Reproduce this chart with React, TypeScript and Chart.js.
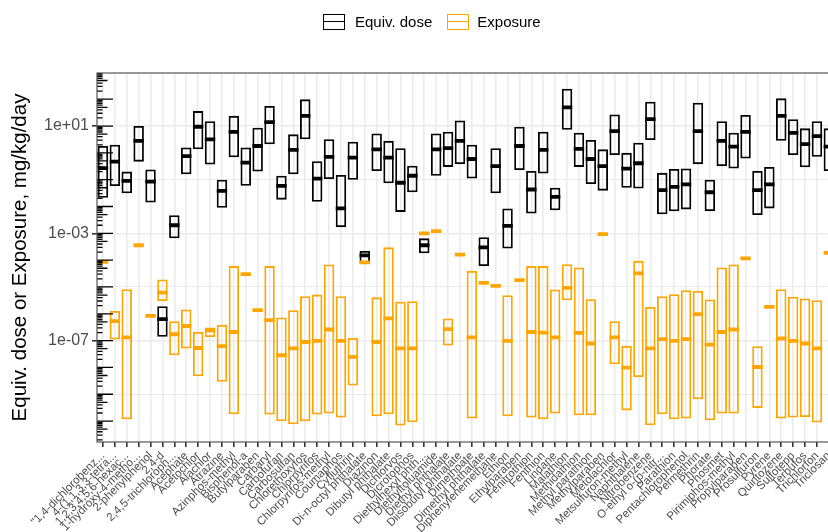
import React, { useEffect, useRef } from 'react';
import { Chart, registerables } from 'chart.js';

Chart.register(...registerables);

const categories = [
  '"1,4-dichlorobenz...', '4-(1,1,3,3-tetra...', '1,2,3,4,5,6-hexac...', '1-hydroxy-4-metho...',
  '2-phenylphenol', '2,4-d', '2,4,5-trichloroph...', 'Acephate', 'Acetochlor', 'Alachlor',
  'Atrazine', 'Azinphos-methyl', 'Bisphenol-a', 'Butylparaben', 'Carbaryl', 'Carbofuran',
  'Carbosulfan', 'Chlorethoxyfos', 'Chlorpyrifos', 'Chlorpyrifos-methyl', 'Coumaphos',
  'Cyfluthrin', 'Di-n-octyl phthalate', 'Diazinon', 'Dibutyl phthalate', 'Dichlorvos',
  'Dicrotophos', 'Diethylhexyl phth...', 'Diethyltoluamide', 'Diethyl phthalate',
  'Diisobutyl phthalate', 'Dimethoate', 'Dimethyl phthalate', 'Diphenylenemethane', 'Ethion',
  'Ethylparaben', 'Fenitrothion', 'Fenthion', 'Lindane', 'Malathion', 'Methidathion',
  'Methyl parathion', 'Methylparaben', 'Metolachlor', 'Metsulfuron-methyl', 'Naphthalene',
  'Nitrobenzene', 'O-ethyl o-(p-nitr...', 'Parathion', 'Pentachlorophenol', 'Permethrin',
  'Phorate', 'Phosmet', 'Pirimiphos-methyl', 'Propylparaben', 'Prosulfuron', 'Pyrene',
  'Quintozene', 'Sulfotepp', 'Terbufos', 'Trichlorfon', 'Triclosan',
];

// Equiv. dose (mg/kg/day)
const doseMin = [
  2.1e-2, 5.8e-2, 3.1e-2, 4.7e-1, 1.4e-2, 1.4e-7, 6.5e-4, 1.6e-1, 1.35, 3.7e-1,
  8.9e-3, 6.8e-1, 5.9e-2, 2.0e-1, 2.1, 1.8e-2, 1.6e-1, 3.2, 1.5e-2, 1.05e-1,
  1.7e-3, 1.0e-1, 7.4e-5, 2.1e-1, 7.3e-2, 6.3e-3, 3.4e-2, 1.8e-4, 1.4e-1, 3.0e-1,
  3.8e-1, 1.1e-1, 6.0e-5, 3.1e-2, 2.7e-4, 2.3e-1, 5.5e-3, 1.7e-1, 7.3e-3, 7.3,
  3.0e-1, 6.9e-2, 3.9e-2, 8.3e-1, 5.0e-2, 4.7e-2, 3.0, 5.1e-3, 6.7e-3, 7.8e-3,
  3.8e-1, 6.7e-3, 3.2e-1, 2.6e-1, 6.2e-1, 4.8e-3, 8.5e-3, 2.8, 8.3e-1, 2.9e-1,
  7.1e-1, 2.1e-1,
];
const doseMed = [
  2.7e-1, 4.7e-1, 9.1e-2, 2.8, 8.4e-2, 6.3e-7, 2.0e-3, 7.6e-1, 9.4, 3.2,
  3.8e-2, 6.1, 4.3e-1, 1.8, 14, 5.9e-2, 1.3, 24, 1.1e-1, 7.1e-1,
  8.5e-3, 6.6e-1, 1.5e-4, 1.35, 6.6e-1, 7.7e-2, 1.4e-1, 3.6e-4, 1.35, 1.5,
  2.8, 5.9e-1, 3.0e-4, 3.2e-1, 1.9e-3, 1.8, 4.3e-2, 1.3, 2.3e-2, 50,
  1.4, 5.9e-1, 3.2e-1, 6.5, 2.6e-1, 4.1e-1, 18, 4.1e-2, 5.4e-2, 6.7e-2,
  6.5, 3.4e-2, 2.8, 1.7, 6.1, 4.1e-2, 6.7e-2, 24, 5.6, 2.1,
  4.2, 1.7,
];
const doseMax = [
  1.8, 2.0, 2.0e-1, 10, 2.4e-1, 1.9e-6, 4.7e-3, 1.6, 36, 15,
  1.0e-1, 24, 1.6, 8.6, 56, 1.4e-1, 4.9, 99, 4.9e-1, 3.2,
  1.5e-1, 2.6, 2.2e-4, 5.3, 2.8, 1.5, 3.3e-1, 6.5e-4, 5.3, 6.1,
  16, 2.0, 7.2e-4, 1.5, 8.5e-3, 9.4, 2.1e-1, 6.1, 5.0e-2, 245,
  5.6, 3.0, 1.35, 27, 1.0, 2.4, 81, 1.8e-1, 2.5e-1, 2.6e-1,
  74, 1.0e-1, 15, 5.6, 26, 2.1e-1, 3.0e-1, 108, 18, 8.2,
  15, 8.2,
];

// Exposure (mg/kg/day); single values have min = median = max
const expMin = [
  8.6e-5, 1.1e-7, 1.17e-10, 3.6e-4, 8.4e-7, 3.0e-6, 2.85e-8, 5.1e-8, 4.7e-9, 1.37e-7,
  2.9e-9, 1.8e-10, 3.0e-5, 1.36e-6, 1.75e-10, 9.8e-11, 7.6e-11, 9.8e-11, 1.75e-10, 1.9e-10,
  1.35e-10, 2.1e-9, 8.2e-5, 1.51e-10, 1.8e-10, 6.8e-11, 9.0e-11, 9.9e-4, 1.21e-3, 6.6e-8,
  1.6e-4, 1.24e-10, 1.42e-5, 1.1e-5, 1.51e-10, 1.8e-5, 1.35e-10, 1.17e-10, 1.9e-10, 3.2e-6,
  1.64e-10, 1.64e-10, 9.3e-4, 1.32e-8, 2.5e-10, 4.4e-9, 7.0e-11, 1.8e-10, 1.17e-10, 1.24e-10,
  6.5e-10, 1.07e-10, 1.9e-10, 1.9e-10, 1.16e-4, 3.1e-10, 1.81e-6, 1.24e-10, 1.35e-10, 1.42e-10,
  8.8e-11, 1.87e-4,
];
const expMed = [
  8.6e-5, 5.3e-7, 1.31e-7, 3.6e-4, 8.4e-7, 6.2e-6, 1.73e-7, 3.5e-7, 5.3e-8, 2.4e-7,
  6.2e-8, 2.1e-7, 3.0e-5, 1.36e-6, 5.8e-7, 2.85e-8, 5.1e-8, 8.9e-8, 9.7e-8, 2.6e-7,
  9.7e-8, 2.47e-8, 8.2e-5, 8.9e-8, 6.7e-7, 5.1e-8, 5.1e-8, 9.9e-4, 1.21e-3, 2.7e-7,
  1.6e-4, 1.31e-7, 1.42e-5, 1.1e-5, 9.7e-8, 1.8e-5, 2.1e-7, 2.0e-7, 1.31e-7, 9.2e-6,
  1.94e-7, 7.8e-8, 9.3e-4, 1.31e-7, 9.9e-9, 3.2e-5, 5.1e-8, 1.13e-7, 9.7e-8, 1.13e-7,
  9.7e-7, 7.1e-8, 2.1e-7, 2.6e-7, 1.16e-4, 1.04e-8, 1.81e-6, 1.2e-7, 9.7e-8, 7.8e-8,
  5.1e-8, 1.87e-4,
];
const expMax = [
  8.6e-5, 1.28e-6, 8.3e-6, 3.6e-4, 8.4e-7, 1.9e-5, 5.3e-7, 1.45e-6, 2.1e-7, 3.1e-7,
  3.8e-7, 6.0e-5, 3.0e-5, 1.36e-6, 6.0e-5, 7.3e-7, 1.36e-6, 4.5e-6, 5.2e-6, 6.9e-5,
  4.5e-6, 1.26e-7, 8.2e-5, 4.1e-6, 3.0e-4, 2.8e-6, 2.95e-6, 9.9e-4, 1.21e-3, 6.7e-7,
  1.6e-4, 4.0e-5, 1.42e-5, 1.1e-5, 4.9e-6, 1.8e-5, 6.0e-5, 6.0e-5, 8.1e-6, 7.1e-5,
  5.3e-5, 3.5e-6, 9.3e-4, 5.3e-7, 6.3e-8, 9.4e-5, 1.81e-6, 4.5e-6, 5.4e-6, 7.6e-6,
  7.1e-6, 3.4e-6, 5.3e-5, 6.9e-5, 1.16e-4, 6.2e-8, 1.81e-6, 8.3e-6, 4.3e-6, 3.7e-6,
  3.2e-6, 1.87e-4,
];

const yTickValues = [1e-7, 1e-3, 1e1];
const yTickLabels = ['1e-07', '1e-03', '1e+01'];
const yMinorGrid = [1e-9, 1e-5, 1e-1];
const Y_MIN = 1.66e-11;
const Y_MAX = 950;

const legendItems = ['Equiv. dose', 'Exposure'];
const seriesColors = ['#000000', '#FFA500'];
const yTitle = 'Equiv. dose or Exposure, mg/kg/day';

const FONT = "'Liberation Sans', Arial, Helvetica, sans-serif";

const panelPlugin = {
  id: 'panelExtras',
  afterDatasetsDraw(chart: any) {
    const { ctx, chartArea } = chart;
    const { left, right, top, bottom } = chartArea;
    const ys = chart.scales.y;
    ctx.save();
    ctx.beginPath();
    ctx.rect(left, top, right - left, bottom - top);
    ctx.clip();
    ctx.strokeStyle = '#000';
    ctx.lineWidth = 1.3;
    for (let e = -12; e <= 3; e++) {
      for (let k = 1; k <= 9; k++) {
        const v = k * Math.pow(10, e);
        if (v < ys.min || v > ys.max) continue;
        const py = ys.getPixelForValue(v);
        const len = k === 1 ? 16 : k === 5 ? 10.5 : 5.5;
        ctx.beginPath();
        ctx.moveTo(left, py);
        ctx.lineTo(left + len, py);
        ctx.stroke();
      }
    }
    ctx.restore();
    ctx.save();
    ctx.strokeStyle = '#555';
    ctx.lineWidth = 1.2;
    ctx.strokeRect(left, top, right - left, bottom - top);
    ctx.restore();
  },
};

function Key({ color }: { color: string }) {
  return (
    <span
      style={{
        position: 'relative',
        display: 'inline-block',
        width: 22,
        height: 16,
        boxSizing: 'border-box',
        border: `1.8px solid ${color}`,
      }}
    >
      <span
        style={{
          position: 'absolute',
          left: 0,
          right: 0,
          top: 6,
          height: 1.8,
          background: color,
        }}
      />
    </span>
  );
}

export default function App() {
  const canvasRef = useRef<HTMLCanvasElement | null>(null);

  useEffect(() => {
    if (!canvasRef.current) return;
    Chart.defaults.font.family = FONT;
    const chart = new Chart(canvasRef.current, {
      type: 'bar',
      data: {
        labels: categories,
        datasets: [
          {
            type: 'line',
            label: legendItems[0] + ' median',
            data: doseMed,
            showLine: false,
            pointStyle: 'line',
            pointRadius: 5.2,
            pointHoverRadius: 5.2,
            pointBorderWidth: 3.8,
            pointBorderColor: seriesColors[0],
            borderColor: seriesColors[0],
            order: 0,
          } as any,
          {
            type: 'line',
            label: legendItems[1] + ' median',
            data: expMed,
            showLine: false,
            pointStyle: 'line',
            pointRadius: 5.2,
            pointHoverRadius: 5.2,
            pointBorderWidth: 3.8,
            pointBorderColor: seriesColors[1],
            borderColor: seriesColors[1],
            order: 0,
          } as any,
          {
            type: 'bar',
            label: legendItems[1],
            data: categories.map((_, i) => [expMin[i], expMax[i]]),
            borderColor: seriesColors[1],
            backgroundColor: 'rgba(0,0,0,0)',
            borderWidth: 1.8,
            borderSkipped: false,
            grouped: false,
            barPercentage: 0.88,
            categoryPercentage: 1,
            order: 1,
          } as any,
          {
            type: 'bar',
            label: legendItems[0],
            data: categories.map((_, i) => [doseMin[i], doseMax[i]]),
            borderColor: seriesColors[0],
            backgroundColor: 'rgba(0,0,0,0)',
            borderWidth: 1.8,
            borderSkipped: false,
            grouped: false,
            barPercentage: 0.88,
            categoryPercentage: 1,
            order: 1,
          } as any,
        ],
      },
      options: {
        responsive: false,
        animation: false,
        events: [],
        layout: { padding: { top: 73, right: 15.2, bottom: 0, left: 0 } },
        plugins: {
          legend: { display: false },
          tooltip: { enabled: false },
        },
        scales: {
          x: {
            type: 'category',
            offset: true,
            grid: {
              offset: false,
              color: '#ebebeb',
              lineWidth: 1.6,
              tickLength: 5,
              tickColor: '#333333',
              drawTicks: true,
            },
            border: { display: false },
            ticks: {
              autoSkip: false,
              maxRotation: 45,
              minRotation: 45,
              color: '#4d4d4d',
              font: { size: 11.5, family: FONT },
              padding: 2,
            },
            afterFit: (s: any) => {
              s.height = 90;
            },
          },
          y: {
            type: 'logarithmic',
            min: Y_MIN,
            max: Y_MAX,
            afterBuildTicks: (s: any) => {
              s.ticks = [...yMinorGrid, ...yTickValues]
                .sort((a, b) => a - b)
                .map((v) => ({ value: v }));
            },
            afterFit: (s: any) => {
              s.width = 97;
            },
            ticks: {
              autoSkip: false,
              color: '#4d4d4d',
              font: { size: 16, family: FONT },
              padding: 3,
              callback: (v: any) => {
                const i = yTickValues.indexOf(Number(v));
                return i >= 0 ? yTickLabels[i] : '';
              },
            },
            grid: {
              color: '#ebebeb',
              lineWidth: (c: any) =>
                c.tick && yTickValues.indexOf(c.tick.value) >= 0 ? 1.6 : 1,
              tickLength: 5,
              tickColor: (c: any) =>
                c.tick && yTickValues.indexOf(c.tick.value) >= 0 ? '#333333' : 'rgba(0,0,0,0)',
              drawTicks: true,
            },
            border: { display: false },
            title: {
              display: true,
              text: yTitle,
              color: '#000000',
              font: { size: 20.5, family: FONT },
              padding: { top: 8, bottom: 0 },
            },
          },
        },
      } as any,
      plugins: [panelPlugin],
    });
    return () => chart.destroy();
  }, []);

  return (
    <div style={{ position: 'fixed', left: 0, top: 0, width: 850, height: 532, background: '#fff' }}>
      <canvas ref={canvasRef} width={850} height={532} style={{ display: 'block' }} />
      <div
        style={{
          position: 'absolute',
          left: 323,
          top: 13,
          display: 'flex',
          alignItems: 'center',
          fontFamily: FONT,
          fontSize: 15,
          color: '#000',
          whiteSpace: 'nowrap',
        }}
      >
        <Key color={seriesColors[0]} />
        <span style={{ marginLeft: 10 }}>{legendItems[0]}</span>
        <span style={{ marginLeft: 15, display: 'inline-flex' }}>
          <Key color={seriesColors[1]} />
        </span>
        <span style={{ marginLeft: 8 }}>{legendItems[1]}</span>
      </div>
    </div>
  );
}
